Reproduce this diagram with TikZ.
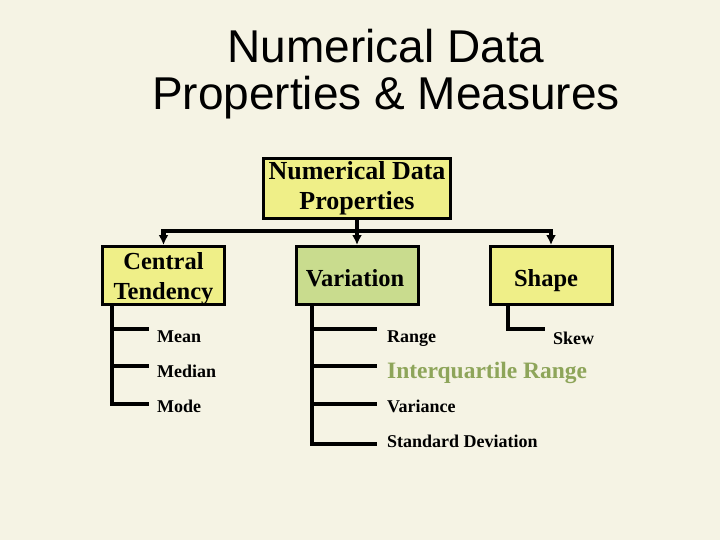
\documentclass[tikz,border=0pt]{standalone}
\usepackage{fontspec}
\setmainfont{Liberation Serif}
\newfontfamily\titlefont{Liberation Sans}
\usetikzlibrary{arrows.meta,positioning}
\usepackage{xcolor}
\definecolor{bgcream}{HTML}{F5F3E4}
\definecolor{boxyellow}{HTML}{EFEF88}
\definecolor{boxgreen}{HTML}{C9DC8E}
\definecolor{iqrgreen}{HTML}{8EA55A}
\newcommand{\mylw}{4.5pt}
\tikzset{
    titlesty/.style={anchor=base,inner sep=0pt,font=\titlefont\fontsize{46}{50}\selectfont},
    boxsty/.style={draw,line width=3pt,fill=boxyellow,rectangle,minimum width=122pt,minimum height=58pt,align=center,inner sep=1pt,text height=21pt,text depth=0pt,font=\bfseries\fontsize{24.5}{30}\selectfont},
    rootsty/.style={boxsty,minimum width=187pt,minimum height=60pt,text height=42pt,font=\bfseries\fontsize{26}{30}\selectfont},
    varsty/.style={boxsty,fill=boxgreen},
    leafsty/.style={anchor=base west,inner sep=0pt,font=\bfseries\fontsize{18}{20}\selectfont},
    iqrsty/.style={leafsty,text=iqrgreen,font=\bfseries\fontsize{23.5}{24}\selectfont},
    bussty/.style={line width=\mylw},
    legsty/.style={line width=\mylw,line join=miter},
}

\begin{document}
\begin{tikzpicture}[x=1pt,y=-1pt,>={Latex[length=10pt,width=10pt]}]
\fill[bgcream] (0,0) rectangle (720,540);

\node[titlesty] (title1) at (386,63) {Numerical Data};
\node[titlesty] (title2) at (386,110) {Properties \& Measures};

\node[rootsty] (root) at (357,189) {Numerical Data\\Properties};
\node[boxsty,text height=47pt] (ct) at (163.5,275.5) {Central\\Tendency};
\node[varsty] (var) at (357,275.5) {Variation\hspace{4pt}};
\node[boxsty] (shp) at (551,275.5) {Shape\hspace{10pt}};

\coordinate (bus) at (357,231);
\draw[bussty,->] (root.south) -- (var.north);
\draw[bussty,->] (bus) -| (ct.north);
\draw[bussty,->] (bus) -| (shp.north);

\node[leafsty] (mean) at (157,342) {Mean};
\node[leafsty] (median) at (157,377) {Median};
\node[leafsty] (mode) at (157,412) {Mode};
\node[leafsty] (range) at (387,342) {Range};
\node[iqrsty] (iqr) at (387,378) {Interquartile Range};
\node[leafsty] (variance) at (387,412) {Variance};
\node[leafsty] (sd) at (387,447) {Standard Deviation};
\node[leafsty] (skew) at (553,344) {Skew};

\coordinate (ctleg) at ([xshift=-51.5pt]ct.south);
\coordinate (varleg) at ([xshift=-45pt]var.south);
\coordinate (shpleg) at ([xshift=-43pt]shp.south);

\draw[legsty] (ctleg) |- ([xshift=-8pt,yshift=13pt]mean.base west);
\draw[legsty] (ctleg) |- ([xshift=-8pt,yshift=11pt]median.base west);
\draw[legsty] (ctleg) |- ([xshift=-8pt,yshift=8pt]mode.base west);
\draw[legsty] (varleg) |- ([xshift=-10pt,yshift=13pt]range.base west);
\draw[legsty] (varleg) |- ([xshift=-10pt,yshift=12pt]iqr.base west);
\draw[legsty] (varleg) |- ([xshift=-10pt,yshift=8pt]variance.base west);
\draw[legsty] (varleg) |- ([xshift=-10pt,yshift=3pt]sd.base west);
\draw[legsty] (shpleg) |- ([xshift=-8pt,yshift=15pt]skew.base west);
\end{tikzpicture}
\end{document}
